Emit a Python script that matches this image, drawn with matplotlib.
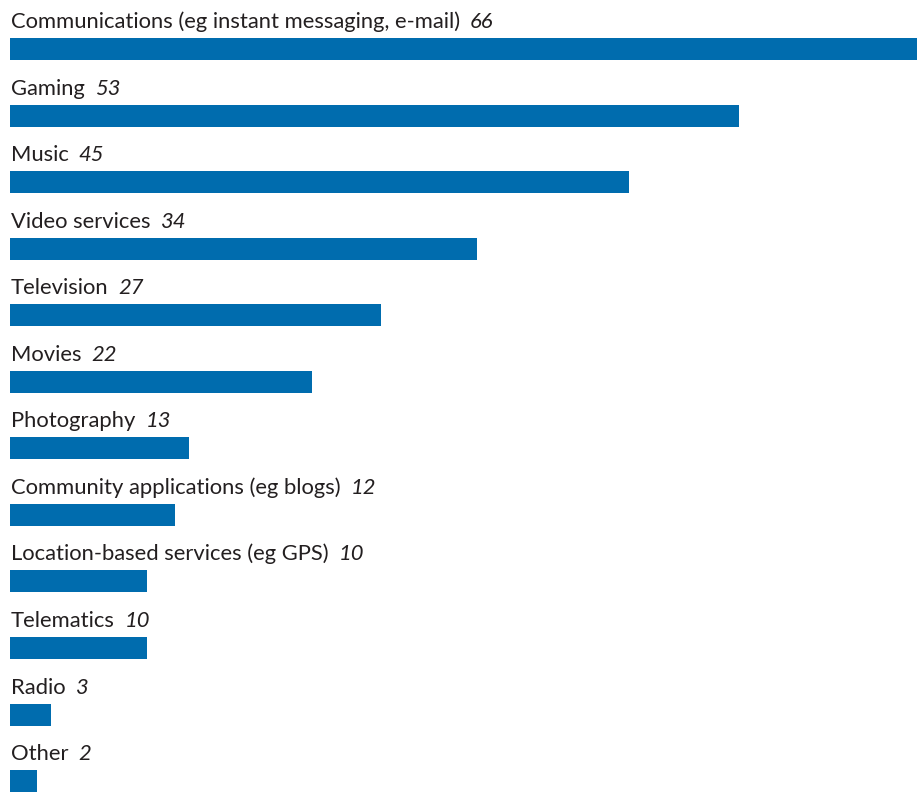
import matplotlib.pyplot as plt

# share of respondents, per application type
categories = [
    "Communications (eg instant messaging, e-mail)",
    "Gaming",
    "Music",
    "Video services",
    "Television",
    "Movies",
    "Photography",
    "Community applications (eg blogs)",
    "Location-based services (eg GPS)",
    "Telematics",
    "Radio",
    "Other",
]
values = [66, 53, 45, 34, 27, 22, 13, 12, 10, 10, 3, 2]

BAR_COLOR = "#006cae"
TEXT_COLOR = "#231f20"
FONT = ["Lato", "DejaVu Sans"]

W, H, DPI = 919, 794, 100
fig = plt.figure(figsize=(W / DPI, H / DPI), dpi=DPI)
ax = fig.add_axes([0, 0, 1, 1])

# pixel geometry: left edge at 10px, 13.75px per unit, rows 66.55px apart
px_per_unit = 13.75
row_px = 66.55
first_center = 49
bar_h = 22 / row_px

rows = list(range(len(categories)))
ax.barh(rows, values, height=bar_h, left=0, color=BAR_COLOR, linewidth=0)

ax.set_xlim(-10 / px_per_unit, (W - 10) / px_per_unit)
ax.set_ylim((H - first_center) / row_px, -first_center / row_px)
ax.axis("off")

for i, (name, val) in enumerate(zip(categories, values)):
    label = ax.annotate(name, xy=(0, i - bar_h / 2), xytext=(1, 10),
                        textcoords="offset pixels", ha="left", va="baseline",
                        fontsize=15.8, color=TEXT_COLOR, family=FONT)
    ax.annotate(str(val), xy=(1, 0), xycoords=label, xytext=(10, 0),
                textcoords="offset pixels", ha="left", va="bottom",
                fontsize=15.8, style="italic", color=TEXT_COLOR, family=FONT)

fig.savefig("out.png", dpi=DPI)
